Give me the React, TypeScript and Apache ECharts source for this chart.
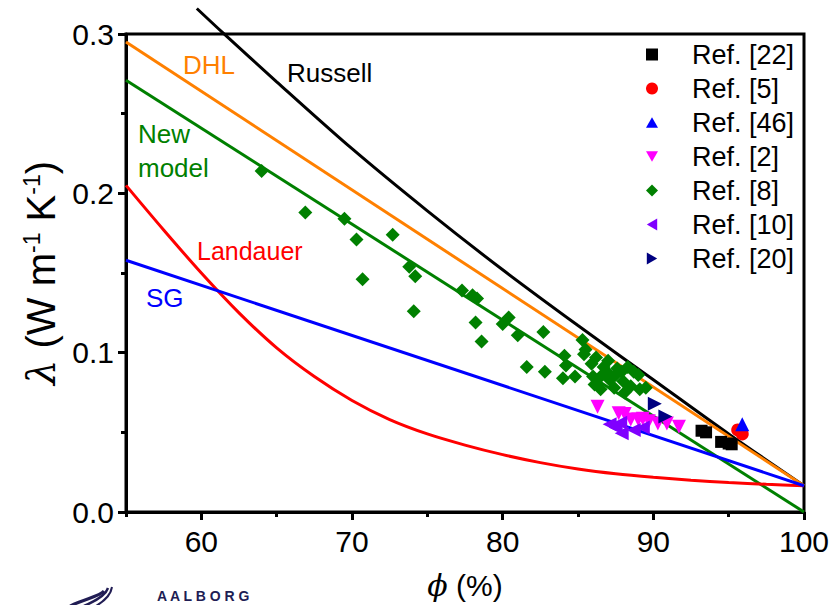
import React, { useEffect, useRef } from "react";
import * as echarts from "echarts";

const FONT = "'Liberation Sans', Arial, sans-serif";

// Model curves (porosity %, conductivity W/mK)
const russellPhi = [59.7, 61.4, 65, 70, 75, 80, 85, 90, 95, 100];
const russellLambda = [0.316, 0.301, 0.27, 0.228, 0.189, 0.152, 0.117, 0.083, 0.049, 0.0165];
const dhlPhi = [55, 100];
const dhlLambda = [0.295, 0.0165];
const newModelPhi = [55, 100];
const newModelLambda = [0.271, 0.0];
const sgPhi = [55, 100];
const sgLambda = [0.158, 0.0165];
const landauerPhi = [55, 57.5, 60, 62.5, 65, 67.5, 70, 72.5, 75, 77.5, 80, 82.5, 85, 87.5, 90, 92.5, 95, 97.5, 100];
const landauerLambda = [0.205, 0.177, 0.15, 0.125, 0.103, 0.085, 0.07, 0.058, 0.049, 0.042, 0.036, 0.031, 0.027, 0.024, 0.0218, 0.02, 0.0185, 0.0174, 0.0165];

// Experimental data
const ref22 = [[93.2, 0.051], [93.5, 0.05], [94.5, 0.044], [95.0, 0.043], [95.2, 0.0425]];
const ref5 = [[95.6, 0.0515], [95.9, 0.049]];
const ref46 = [[95.9, 0.055]];
const ref2 = [[86.3, 0.066], [87.7, 0.062], [88.1, 0.0615], [88.5, 0.058], [89.0, 0.058], [89.3, 0.0585], [89.7, 0.057], [90.3, 0.0555], [90.9, 0.0555], [91.7, 0.0535]];
const ref8 = [
  [64.0, 0.214], [66.9, 0.188], [69.5, 0.184], [70.3, 0.171], [70.7, 0.146], [72.7, 0.174],
  [73.8, 0.154], [74.2, 0.148], [74.1, 0.126], [77.3, 0.139], [78.0, 0.136], [78.3, 0.134],
  [78.2, 0.119], [78.6, 0.107], [80.0, 0.118], [80.4, 0.122], [81.0, 0.111], [81.6, 0.091],
  [82.7, 0.113], [82.8, 0.088], [84.0, 0.084], [84.1, 0.098], [84.2, 0.092], [84.8, 0.085],
  [85.3, 0.108], [85.4, 0.099], [85.5, 0.102], [85.9, 0.093], [86.0, 0.085], [86.2, 0.097],
  [86.1, 0.08], [86.5, 0.085], [86.5, 0.077], [86.9, 0.088], [87.1, 0.083], [87.0, 0.095],
  [87.4, 0.078], [87.6, 0.09], [87.9, 0.088], [88.0, 0.082], [88.1, 0.075], [88.3, 0.091],
  [88.7, 0.088], [88.5, 0.079], [89.0, 0.086], [89.1, 0.077], [89.5, 0.078], [86.7, 0.091], [87.5, 0.086]
];
const ref10 = [[87.1, 0.055], [87.5, 0.053], [87.8, 0.056], [87.9, 0.0495], [88.7, 0.0515], [89.3, 0.053]];
const ref20 = [[90.1, 0.068], [90.8, 0.06]];

const xMajorTicks = [60, 70, 80, 90, 100];
const legendNames = ["Ref. [22]", "Ref. [5]", "Ref. [46]", "Ref. [2]", "Ref. [8]", "Ref. [10]", "Ref. [20]"];

const zip = (xs: number[], ys: number[]) => xs.map((x, i) => [x, ys[i]]);

export default function App() {
  const ref = useRef<HTMLDivElement>(null);
  useEffect(() => {
    if (!ref.current) return;
    const chart = echarts.init(ref.current, null, { renderer: "svg" });
    const lineSeries = (name: string, data: number[][], color: string, extra: any = {}) => ({
      type: "line",
      name,
      data,
      showSymbol: false,
      symbol: "none",
      lineStyle: { color, width: 3 },
      itemStyle: { color },
      z: 2,
      ...extra,
    });
    const scatter = (name: string, data: number[][], color: string, symbol: string, size: number, rotate = 0) => ({
      type: "scatter",
      name,
      data,
      symbol,
      symbolSize: size,
      symbolRotate: rotate,
      itemStyle: { color, opacity: 1 },
      z: 5,
    });
    const icons: Record<string, string> = {
      "Ref. [22]": "path://M0,0L10,0L10,10L0,10Z",
      "Ref. [5]": "circle",
      "Ref. [46]": "path://M6,0L12,10.4L0,10.4Z",
      "Ref. [2]": "path://M0,0L12,0L6,10.4Z",
      "Ref. [8]": "diamond",
      "Ref. [10]": "path://M10.4,0L10.4,12L0,6Z",
      "Ref. [20]": "path://M0,0L0,12L10.4,6Z",
    };
    chart.setOption({
      animation: false,
      backgroundColor: "#fff",
      textStyle: { fontFamily: FONT },
      grid: { left: 126, right: 33, top: 34, bottom: 86, show: true, borderColor: "#000", borderWidth: 3, backgroundColor: "transparent" },
      xAxis: [
        {
          type: "value",
          min: 55,
          max: 100,
          interval: 5,
          axisLine: { show: true, onZero: false, lineStyle: { color: "#000", width: 3 } },
          axisTick: { show: true, length: 8, customValues: xMajorTicks, lineStyle: { color: "#000", width: 3 } },
          axisLabel: { customValues: xMajorTicks, fontSize: 30, color: "#000", margin: 14, fontFamily: FONT },
          splitLine: { show: false },
          name: "{i|ϕ} (%)",
          nameLocation: "middle",
          nameGap: 58,
          nameTextStyle: {
            fontSize: 30,
            color: "#000",
            fontFamily: FONT,
            rich: { i: { fontSize: 30, fontStyle: "italic", fontFamily: "'DejaVu Serif', serif", color: "#000" } },
          },
        },
        {
          type: "value",
          min: 55,
          max: 100,
          interval: 5,
          position: "bottom",
          axisLine: { show: false },
          axisTick: { show: true, length: 5, lineStyle: { color: "#000", width: 3 } },
          axisLabel: { show: false },
          splitLine: { show: false },
        },
      ],
      yAxis: {
        type: "value",
        min: 0,
        max: 0.3,
        interval: 0.1,
        axisLine: { show: true, lineStyle: { color: "#000", width: 3 } },
        axisTick: { show: true, length: 8, lineStyle: { color: "#000", width: 3 } },
        minorTick: { show: true, splitNumber: 2, length: 5, lineStyle: { color: "#000", width: 3 } },
        axisLabel: { fontSize: 30, color: "#000", margin: 12, fontFamily: FONT, formatter: (v: number) => v.toFixed(1) },
        splitLine: { show: false },
        minorSplitLine: { show: false },
        name: "{i|λ} (W m{s|-1} K{s|-1})",
        nameLocation: "middle",
        nameRotate: 90,
        nameGap: 63,
        nameTextStyle: {
          fontSize: 40,
          color: "#000",
          fontFamily: FONT,
          rich: {
            i: { fontSize: 40, fontStyle: "italic", fontFamily: "'DejaVu Serif', serif", color: "#000" },
            s: { fontSize: 23, verticalAlign: "top", lineHeight: 42, color: "#000" },
          },
        },
      },
      legend: {
        orient: "vertical",
        left: 641,
        top: 36,
        itemWidth: 12,
        itemHeight: 12,
        itemGap: 7,
        textStyle: { fontSize: 27, lineHeight: 27, color: "#000", fontFamily: FONT, padding: [0, 0, 0, 29] },
        data: legendNames.map((n) => ({ name: n, icon: icons[n] })),
      },
      series: [
        lineSeries("Russell", zip(russellPhi, russellLambda), "#000000", { smooth: 0.3, clip: false }),
        lineSeries("DHL", zip(dhlPhi, dhlLambda), "#FF8000"),
        lineSeries("New model", zip(newModelPhi, newModelLambda), "#008000"),
        lineSeries("Landauer", zip(landauerPhi, landauerLambda), "#FF0000", { smooth: 0.3 }),
        lineSeries("SG", zip(sgPhi, sgLambda), "#0000FF"),
        scatter("Ref. [8]", ref8, "#008000", "diamond", 14),
        scatter("Ref. [2]", ref2, "#FF00FF", "triangle", 14, 180),
        scatter("Ref. [10]", ref10, "#8000FF", "triangle", 14, 90),
        scatter("Ref. [20]", ref20, "#000080", "triangle", 14, -90),
        scatter("Ref. [22]", ref22, "#000000", "rect", 12),
        scatter("Ref. [5]", ref5, "#FF0000", "circle", 13),
        scatter("Ref. [46]", ref46, "#0000FF", "triangle", 14),
      ],
      graphic: [
        { type: "text", left: 183, top: 52, style: { text: "DHL", fontSize: 26, fill: "#FF8000", fontFamily: FONT } },
        { type: "text", left: 287, top: 60, style: { text: "Russell", fontSize: 26, fill: "#000000", fontFamily: FONT } },
        { type: "text", left: 138, top: 121, style: { text: "New", fontSize: 26, fill: "#008000", fontFamily: FONT } },
        { type: "text", left: 138, top: 155, style: { text: "model", fontSize: 26, fill: "#008000", fontFamily: FONT } },
        { type: "text", left: 197, top: 238, style: { text: "Landauer", fontSize: 25, fill: "#FF0000", fontFamily: FONT } },
        { type: "text", left: 146, top: 285, style: { text: "SG", fontSize: 26, fill: "#0000FF", fontFamily: FONT } },
        { type: "text", left: 157, top: 589, style: { text: "A A L B O R G", fontSize: 14, fontWeight: "bold", fill: "#211D54", fontFamily: FONT } },
        { type: "bezierCurve", shape: { x1: 70, y1: 606, cpx1: 88, cpy1: 598, cpx2: 100, cpy2: 596, x2: 104, y2: 591 }, style: { stroke: "#211D54", lineWidth: 3, fill: "none" } },
        { type: "bezierCurve", shape: { x1: 84, y1: 606, cpx1: 98, cpy1: 600, cpx2: 106, cpy2: 594, x2: 108, y2: 588 }, style: { stroke: "#211D54", lineWidth: 2.5, fill: "none" } },
        { type: "bezierCurve", shape: { x1: 96, y1: 606, cpx1: 106, cpy1: 600, cpx2: 111, cpy2: 594, x2: 112, y2: 587 }, style: { stroke: "#211D54", lineWidth: 2, fill: "none" } },
      ],
    });
    return () => chart.dispose();
  }, []);
  return <div ref={ref} style={{ position: "fixed", left: 0, top: 0, width: 837, height: 605 }} />;
}
